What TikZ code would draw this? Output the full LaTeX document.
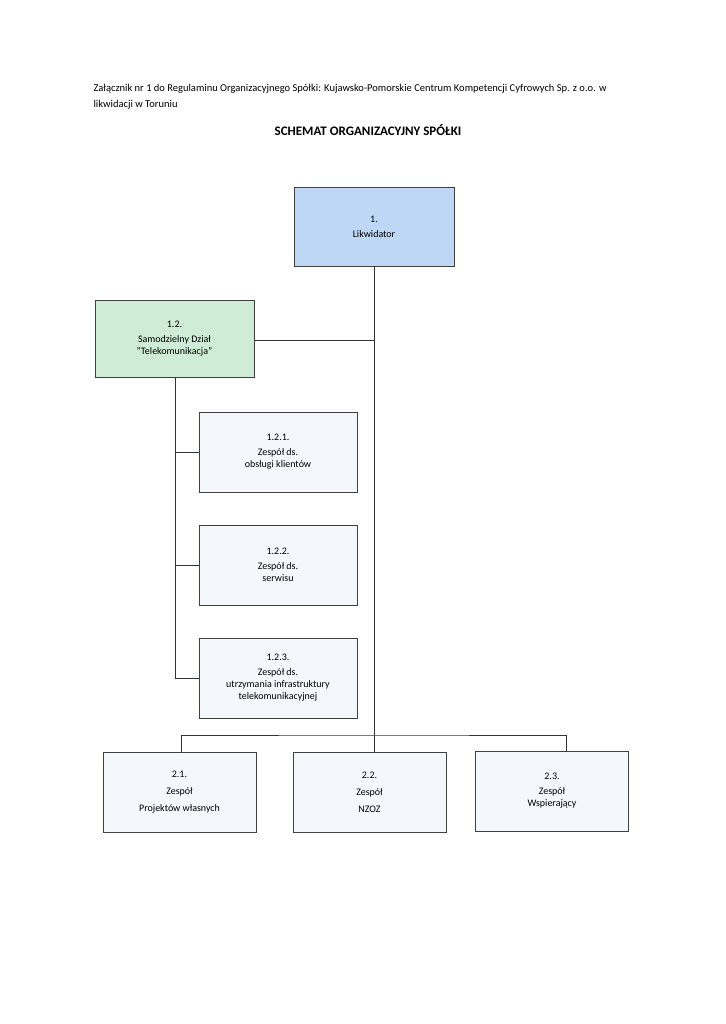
\documentclass[tikz,border=0pt]{standalone}
\usepackage{fontspec}
\setmainfont{Carlito}
\usetikzlibrary{positioning}
\definecolor{headblue}{RGB}{190,215,245}
\definecolor{deptgreen}{RGB}{206,236,214}
\definecolor{teamgrey}{RGB}{244,247,251}
\begin{document}
\begin{tikzpicture}[
    x=1pt, y=-1pt,
    every node/.style = {font=\fontsize{10}{15}\selectfont, align=center},
    unit/.style   = {rectangle, draw=black!75, line width=0.9pt, fill=teamgrey,
                     minimum width=158pt, minimum height=80pt},
    head/.style   = {unit, fill=headblue, minimum width=160pt, minimum height=79pt},
    dept/.style   = {unit, fill=deptgreen, minimum width=159pt, minimum height=77pt},
    team/.style   = {unit, minimum width=153pt},
    link/.style   = {draw=black!80, line width=0.9pt}
  ]
  \useasboundingbox (0,0) rectangle (725,1024);

  % header
  \node[anchor=north west, align=left, font=\fontsize{10.5}{16}\selectfont] (intro) at (90,81)
    {Załącznik nr 1 do Regulaminu Organizacyjnego Spółki: Kujawsko-Pomorskie Centrum Kompetencji Cyfrowych Sp. z o.o. w\\likwidacji w Toruniu};
  \node[font=\fontsize{13}{15}\selectfont\bfseries] (title) at (368,130) {SCHEMAT ORGANIZACYJNY SPÓŁKI};

  % boxes
  \node[head] (likw) at (374,226.5) {1.\\Likwidator};
  \node[dept] (tele) at (174.5,338.5) {1.2.\\Samodzielny Dział\\[-3pt]"Telekomunikacja"};
  \node[unit] (obsl) at (278,452) {1.2.1.\\Zespół ds.\\[-3pt]obsługi klientów};
  \node[unit] (serw) at (278,565) {1.2.2.\\Zespół ds.\\[-3pt]serwisu};
  \node[unit] (infr) at (278,678) {1.2.3.\\Zespół ds.\\[-3pt]utrzymania infrastruktury\\[-3pt]telekomunikacyjnej};
  \node[team] (proj) at (179.5,792) {2.1.\\[2pt]Zespół\\[2pt]Projektów własnych};
  \node[team] (nzoz) at (369.5,792) {2.2.\\[2pt]Zespół\\[2pt]NZOZ};
  \node[team] (wsp)  at (552,791) {2.3.\\Zespół\\[-3pt]Wspierający};

  % connectors
  \coordinate (bus) at (374,735);
  \coordinate (teleJoin) at (374,340);
  \draw[link] (likw.south) -- (bus);
  \draw[link] (tele.east |- teleJoin) -- (teleJoin);
  \draw[link] (tele.south -| 175,0) |- (infr.west);
  \foreach \n in {obsl, serw}
    \draw[link] (175,0 |- \n.west) -- (\n.west);
  \draw[link] (181,752) |- (bus) -| (566,752);
  \draw[link] (bus) -- (nzoz.north -| bus);
\end{tikzpicture}
\end{document}
